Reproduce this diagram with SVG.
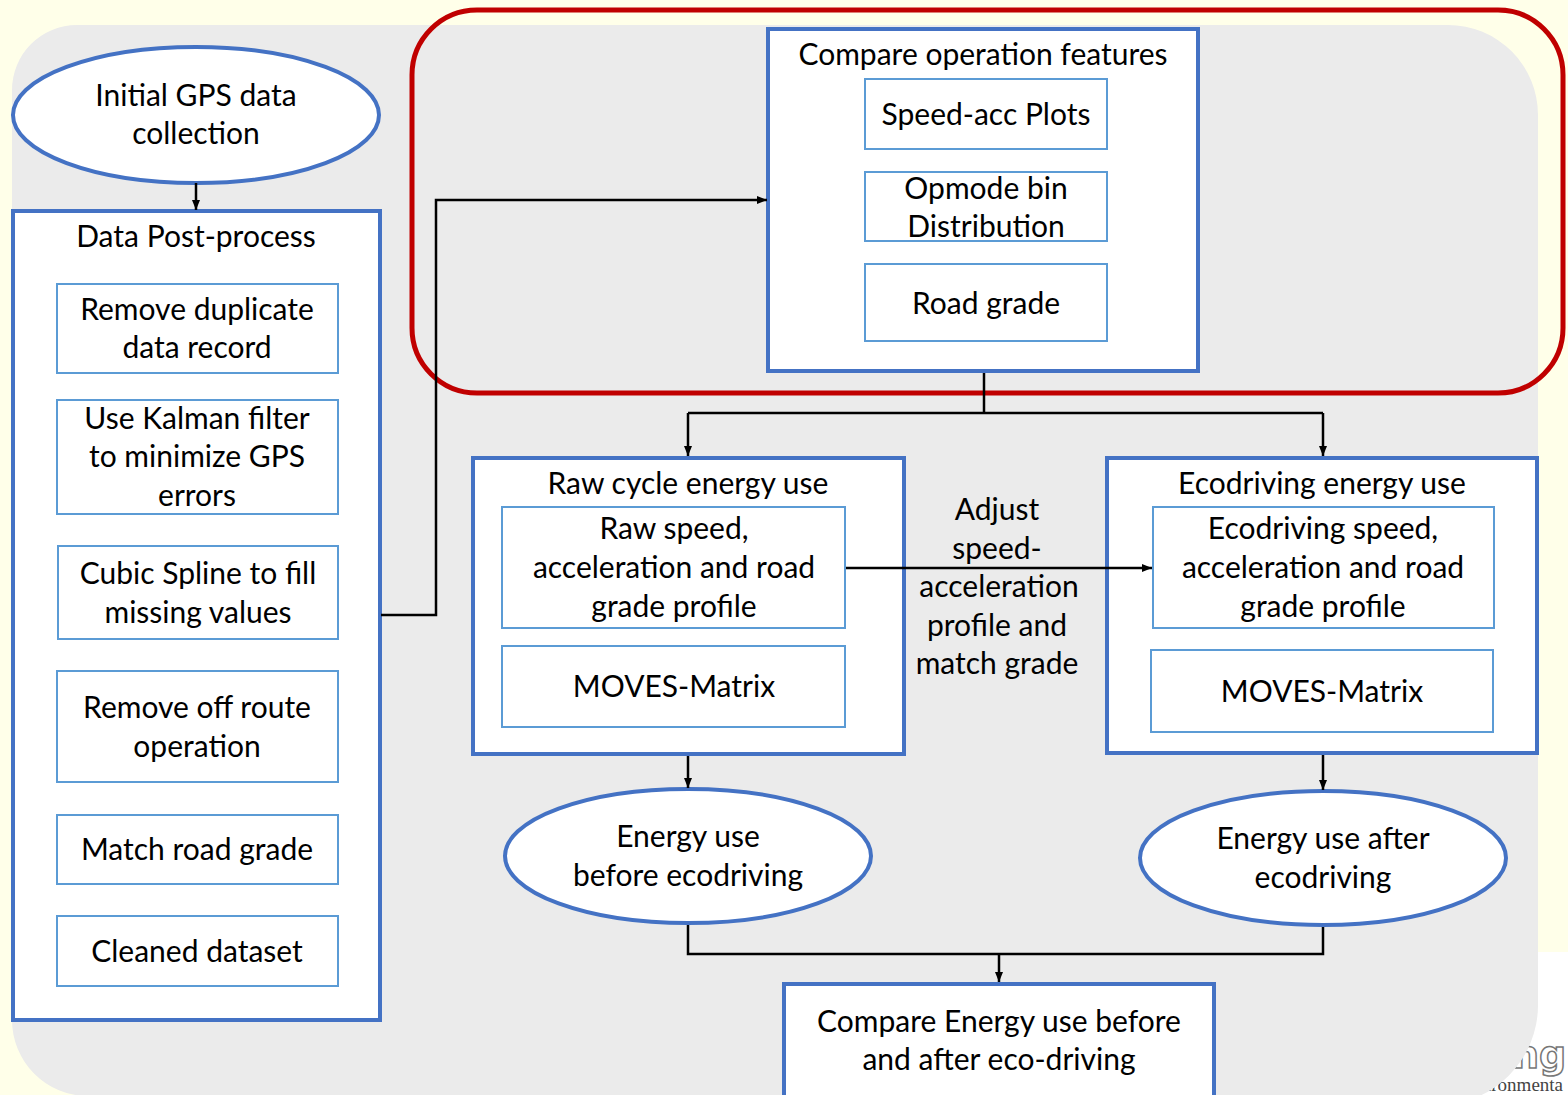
<svg xmlns="http://www.w3.org/2000/svg" width="1568" height="1095" viewBox="0 0 1568 1095">
<defs>
<style>
.t{font-family:Lato,"Liberation Sans",sans-serif;font-size:30px;fill:#000;text-anchor:middle}
.outer{fill:#fff;stroke:#4472C4;stroke-width:4}
.inner{fill:#fff;stroke:#5B9BD5;stroke-width:2}
.conn{fill:none;stroke:#000;stroke-width:2.5}
</style>
<marker id="ah" markerWidth="10" markerHeight="8" refX="10" refY="4" orient="auto" markerUnits="userSpaceOnUse">
<path d="M0,0 L10,4 L0,8 Z" fill="#000"/>
</marker>
</defs>
<rect x="0" y="0" width="1568" height="1095" fill="#FFFFE9"/>
<rect x="1400" y="952" width="168" height="143" fill="#fff"/>
<text x="1512" y="1068" style="font-family:'DejaVu Sans',sans-serif;font-size:38px;font-weight:bold;fill:#fff;stroke:#777;stroke-width:1.5">ng</text>
<text x="1486" y="1091" style="font-family:'Liberation Serif',serif;font-size:19px;fill:#444">ıronmenta</text>
<path d="M12,90 A65,65 0 0 1 77,25 H1448 A90,90 0 0 1 1538,115 V1005 A100,100 0 0 1 1438,1105 H88 V1096 A76,76 0 0 1 12,1020 Z" fill="#EBEBEB"/>
<rect x="412" y="10" width="1151" height="383" rx="65" ry="65" fill="none" stroke="#C00000" stroke-width="5"/>

<g id="initial-gps">
<ellipse cx="196" cy="115" rx="183" ry="68" class="outer"/>
<text class="t" x="196" y="106">Initial GPS data</text>
<text class="t" x="196" y="144">collection</text>
</g>

<g id="data-post-process">
<rect class="outer" x="13" y="211" width="367" height="809"/>
<text class="t" x="196" y="247">Data Post-process</text>
</g>
<g id="remove-duplicate">
<rect class="inner" x="57" y="284" width="281" height="89"/>
<text class="t" x="197" y="320">Remove duplicate</text>
<text class="t" x="197" y="358">data record</text>
</g>
<g id="kalman">
<rect class="inner" x="57" y="400" width="281" height="114"/>
<text class="t" x="197" y="429">Use Kalman filter</text>
<text class="t" x="197" y="467">to minimize GPS</text>
<text class="t" x="197" y="506">errors</text>
</g>
<g id="cubic-spline">
<rect class="inner" x="58" y="546" width="280" height="93"/>
<text class="t" x="198" y="584">Cubic Spline to fill</text>
<text class="t" x="198" y="623">missing values</text>
</g>
<g id="off-route">
<rect class="inner" x="57" y="671" width="281" height="111"/>
<text class="t" x="197" y="718">Remove off route</text>
<text class="t" x="197" y="757">operation</text>
</g>
<g id="match-grade">
<rect class="inner" x="57" y="815" width="281" height="69"/>
<text class="t" x="197" y="860">Match road grade</text>
</g>
<g id="cleaned">
<rect class="inner" x="57" y="916" width="281" height="70"/>
<text class="t" x="197" y="962">Cleaned dataset</text>
</g>

<g id="compare-features">
<rect class="outer" x="768" y="29" width="430" height="342"/>
<text class="t" x="983" y="65">Compare operation features</text>
</g>
<g id="speed-acc">
<rect class="inner" x="865" y="79" width="242" height="70"/>
<text class="t" x="986" y="125">Speed-acc Plots</text>
</g>
<g id="opmode">
<rect class="inner" x="865" y="172" width="242" height="69"/>
<text class="t" x="986" y="199">Opmode bin</text>
<text class="t" x="986" y="237">Distribution</text>
</g>
<g id="road-grade">
<rect class="inner" x="865" y="264" width="242" height="77"/>
<text class="t" x="986" y="314">Road grade</text>
</g>

<g id="raw-cycle">
<rect class="outer" x="473" y="458" width="431" height="296"/>
<text class="t" x="688" y="494">Raw cycle energy use</text>
</g>
<g id="raw-speed">
<rect class="inner" x="502" y="507" width="343" height="121"/>
<text class="t" x="674" y="539">Raw speed,</text>
<text class="t" x="674" y="578">acceleration and road</text>
<text class="t" x="674" y="617">grade profile</text>
</g>
<g id="moves-raw">
<rect class="inner" x="502" y="646" width="343" height="81"/>
<text class="t" x="674" y="697">MOVES-Matrix</text>
</g>

<g id="adjust-label">
<text class="t" x="997" y="520">Adjust</text>
<text class="t" x="997" y="559">speed-</text>
<text class="t" x="999" y="597">acceleration</text>
<text class="t" x="997" y="636">profile and</text>
<text class="t" x="997" y="674">match grade</text>
</g>

<g id="eco-energy">
<rect class="outer" x="1107" y="458" width="430" height="295"/>
<text class="t" x="1322" y="494">Ecodriving energy use</text>
</g>
<g id="eco-speed">
<rect class="inner" x="1153" y="507" width="341" height="121"/>
<text class="t" x="1323" y="539">Ecodriving speed,</text>
<text class="t" x="1323" y="578">acceleration and road</text>
<text class="t" x="1323" y="617">grade profile</text>
</g>
<g id="moves-eco">
<rect class="inner" x="1151" y="650" width="342" height="82"/>
<text class="t" x="1322" y="702">MOVES-Matrix</text>
</g>

<g id="energy-before">
<ellipse cx="688" cy="856" rx="183" ry="67" class="outer"/>
<text class="t" x="688" y="847">Energy use</text>
<text class="t" x="688" y="886">before ecodriving</text>
</g>
<g id="energy-after">
<ellipse cx="1323" cy="858" rx="183" ry="67" class="outer"/>
<text class="t" x="1323" y="849">Energy use after</text>
<text class="t" x="1323" y="888">ecodriving</text>
</g>

<g id="compare-energy">
<rect class="outer" x="784" y="984" width="430" height="130"/>
<text class="t" x="999" y="1032">Compare Energy use before</text>
<text class="t" x="999" y="1070">and after eco-driving</text>
</g>

<g id="connectors">
<line class="conn" x1="196" y1="183" x2="196" y2="210" marker-end="url(#ah)"/>
<polyline class="conn" points="381,615 436,615 436,200 767,200" marker-end="url(#ah)"/>
<polyline class="conn" points="984,373 984,413"/>
<polyline class="conn" points="688,413 1323,413"/>
<line class="conn" x1="688" y1="413" x2="688" y2="456" marker-end="url(#ah)"/>
<line class="conn" x1="1323" y1="413" x2="1323" y2="456" marker-end="url(#ah)"/>
<line class="conn" x1="846" y1="568" x2="1152" y2="568" marker-end="url(#ah)"/>
<line class="conn" x1="688" y1="756" x2="688" y2="788" marker-end="url(#ah)"/>
<line class="conn" x1="1323" y1="755" x2="1323" y2="790" marker-end="url(#ah)"/>
<polyline class="conn" points="688,925 688,954 1323,954 1323,927"/>
<line class="conn" x1="999" y1="954" x2="999" y2="982" marker-end="url(#ah)"/>
</g>
</svg>
